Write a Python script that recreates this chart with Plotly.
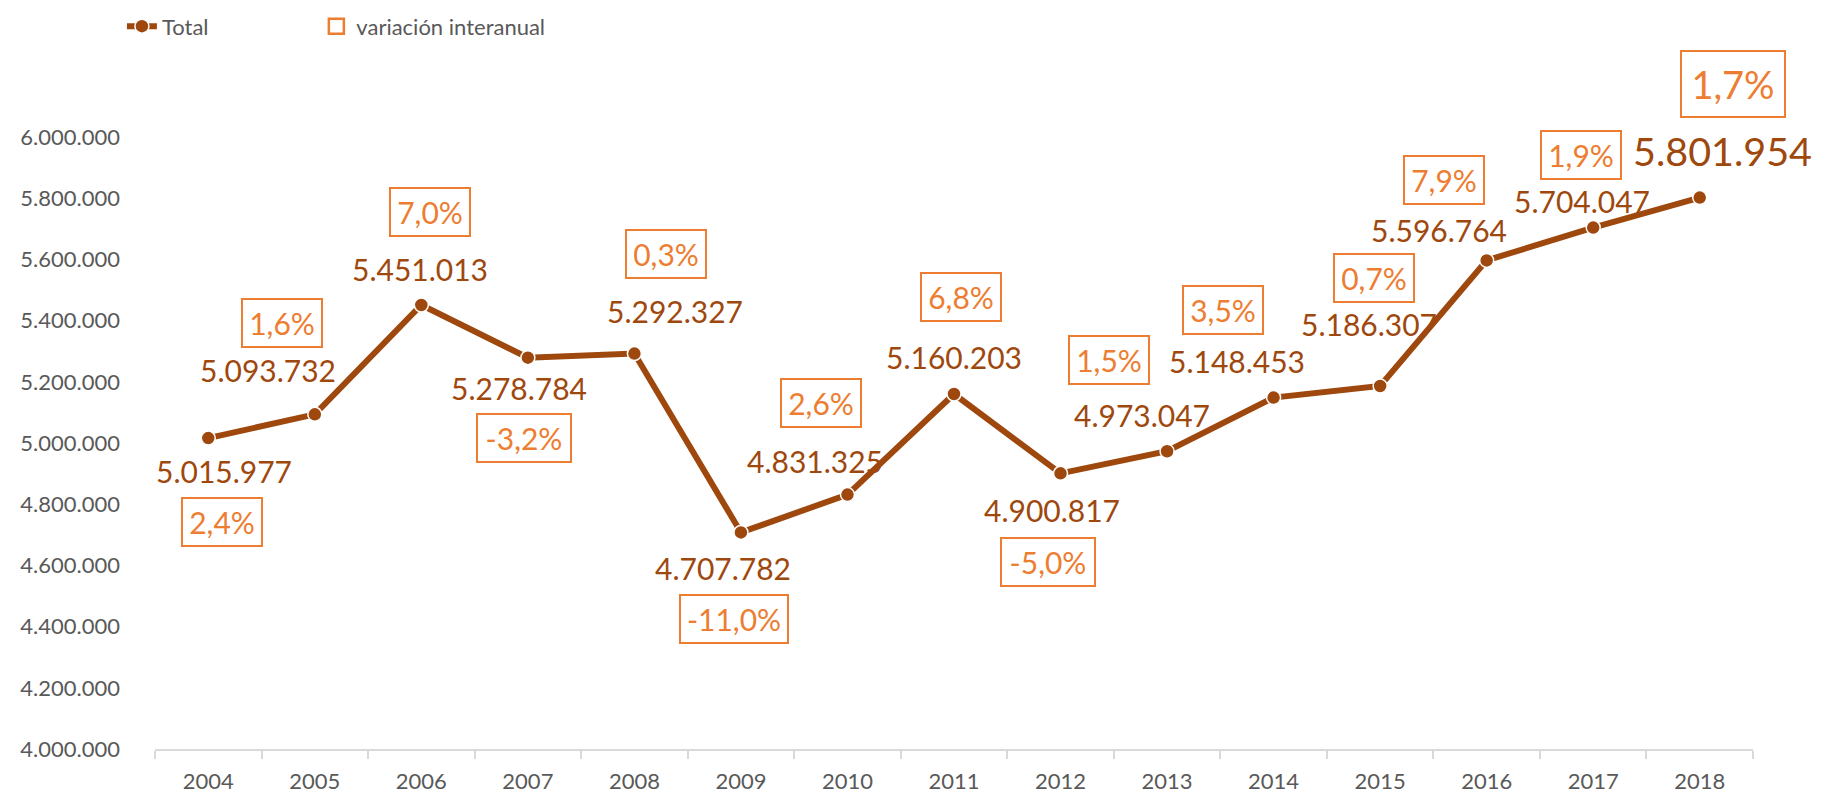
import plotly.graph_objects as go

# datos
years = [str(y) for y in range(2004, 2019)]
total = [5015977, 5093732, 5451013, 5278784, 5292327, 4707782, 4831325, 5160203,
         4900817, 4973047, 5148453, 5186307, 5596764, 5704047, 5801954]
variacion = [2.4, 1.6, 7.0, -3.2, 0.3, -11.0, 2.6, 6.8, -5.0, 1.5, 3.5, 0.7, 7.9, 1.9, 1.7]

# desplazamiento de etiquetas en px (dx, dy hacia abajo)
val_off = [(16, 33), (-47, -44), (-1, -36), (-9, 30), (41, -43), (-18, 36), (-32, -34), (0, -37),
           (-9, 37), (-25, -36), (-37, -37), (-11, -62), (-48, -30), (-11, -27), (23, -47)]
pct_off = [(14, 84), (-33, -91), (9, -93), (-4, 80), (32, -100), (-7, 87), (-26, -92), (7, -97),
           (-13, 89), (-58, -91), (-51, -88), (-6, -108), (-43, -80), (-12, -73), (33, -114)]

BROWN = "#9E480E"
ORANGE = "#ED7D31"
GREY = "#595959"
FONT = "Lato"

# la página tiene 8 px de margen en el body
W, H = 1825 - 8, 806 - 8

fig = go.Figure()
fig.add_trace(go.Scatter(
    x=years, y=total, mode="lines+markers", name="Total",
    line=dict(color=BROWN, width=6),
    marker=dict(size=14, color=BROWN, line=dict(color="white", width=1.5)),
    legend="legend",
))
fig.add_trace(go.Scatter(
    x=[None], y=[None], mode="markers", name="variación interanual",
    marker=dict(symbol="square-open", size=15, color=ORANGE, line=dict(width=2.5)),
    legend="legend2",
))

def fmt_num(v):
    return f"{v:,}".replace(",", ".")

def fmt_pct(p):
    return f"{p:.1f}%".replace(".", ",")

annotations = []
last = len(years) - 1
for i, (v, p) in enumerate(zip(total, variacion)):
    big = i == last
    txt = fmt_pct(p)
    annotations.append(dict(
        x=i, y=v, xref="x", yref="y", text=fmt_num(v), showarrow=False,
        xshift=val_off[i][0], yshift=-val_off[i][1],
        font=dict(family=FONT, size=39.5 if big else 30, color=BROWN),
    ))
    annotations.append(dict(
        x=i, y=v, xref="x", yref="y", text=txt, showarrow=False,
        xshift=pct_off[i][0], yshift=-pct_off[i][1],
        font=dict(family=FONT, size=38 if big else 30, color=ORANGE),
        bordercolor=ORANGE, borderwidth=2,
        borderpad=9 if big else 7,
        width=84 if big else 14 * len(txt) + 8,
        height=46 if big else 32,
    ))

legend_style = dict(
    orientation="h", xref="container", yref="container",
    y=0.977, xanchor="left", yanchor="middle",
    font=dict(family=FONT, size=22, color=GREY),
)

fig.update_layout(
    width=W, height=H,
    margin=dict(l=125, r=72, t=129, b=53),
    plot_bgcolor="white", paper_bgcolor="white",
    separators=",.",
    font=dict(family=FONT, color=GREY),
    showlegend=True,
    legend=dict(legend_style, x=0.0627),
    legend2=dict(legend_style, x=0.1697),
    annotations=annotations,
)
fig.update_xaxes(
    type="category", range=[-0.5, 14.5],
    showline=True, linecolor="#D9D9D9", linewidth=2,
    ticks="outside", tickson="boundaries", ticklen=8, tickcolor="#D9D9D9", tickwidth=2,
    tickfont=dict(family=FONT, size=22, color=GREY),
    showgrid=False, zeroline=False, ticklabelstandoff=12,
)
fig.update_yaxes(
    range=[4000000, 6000000], dtick=200000, tickformat=",d",
    showline=False, showgrid=False, zeroline=False,
    tickfont=dict(family=FONT, size=22, color=GREY),
    ticklabelstandoff=34,
)

fig.write_html("out.html")
